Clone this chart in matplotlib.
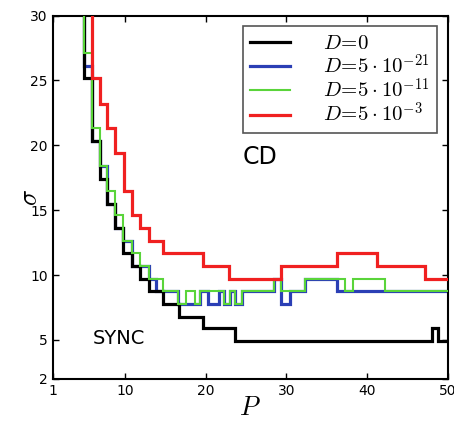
# Phase diagram: SYNC / CD boundary sigma(P) for several noise levels D
import numpy as np
import matplotlib.pyplot as plt

plt.rcParams['mathtext.fontset'] = 'cm'

# step edges in P and boundary value of sigma on each interval
# (first interval lies above the plotted range)
P_d0 = [1, 4.9, 5.9, 6.9, 7.7, 8.7, 9.7, 10.8, 11.8, 12.9, 14.7, 16.7, 19.7,
        23.6, 48.0, 48.8, 50]
sig_d0 = [40, 25.2, 20.3, 17.4, 15.5, 13.6, 11.7, 10.7, 9.7, 8.8, 7.8, 6.8,
          5.9, 4.9, 5.9, 4.9]

P_d21 = [1, 4.9, 5.9, 6.9, 7.7, 8.7, 9.7, 10.8, 11.8, 12.9, 13.8, 16.6, 17.5,
         18.7, 19.3, 20.3, 21.6, 22.2, 23.0, 23.6, 24.5, 28.4, 29.3, 30.4,
         32.3, 36.3, 50]
sig_d21 = [40, 26.1, 20.3, 18.4, 15.5, 13.6, 12.6, 10.7, 10.7, 9.7, 8.8, 7.8,
           7.8, 7.8, 8.8, 7.8, 8.8, 7.8, 8.8, 7.8, 8.8, 9.7, 7.8, 8.8, 9.7,
           8.8]

P_d11 = [1, 4.9, 5.9, 6.9, 7.7, 8.7, 9.7, 10.8, 11.8, 12.9, 14.7, 16.6, 17.5,
         18.7, 19.3, 22.2, 23.0, 23.6, 24.5, 28.4, 29.3, 32.3, 37.3, 38.3,
         42.2, 50]
sig_d11 = [40, 27.1, 21.3, 18.4, 16.5, 14.6, 12.6, 11.7, 10.7, 9.7, 8.8, 7.8,
           8.8, 7.8, 8.8, 7.8, 8.8, 7.8, 8.8, 9.7, 8.8, 9.7, 8.8, 9.7, 8.8]

P_d3 = [1, 5.9, 6.9, 7.8, 8.7, 9.8, 10.8, 11.8, 12.9, 14.7, 19.7, 22.9, 29.3,
        36.3, 41.2, 47.2, 50]
sig_d3 = [40, 25.2, 23.2, 21.3, 19.4, 16.5, 14.6, 13.6, 12.6, 11.7, 10.7, 9.7,
          10.7, 11.7, 10.7, 9.7]

fig = plt.figure(figsize=(4.54, 4.21), dpi=100)
ax = fig.add_axes([0.116, 0.1, 0.87, 0.863])

ax.stairs(sig_d21, P_d21, baseline=None, color='#2b3fb5', lw=2.3, zorder=2,
          label=r'$D\!=\!5\cdot10^{-21}$')
ax.stairs(sig_d0, P_d0, baseline=None, color='k', lw=2.3, zorder=3,
          label=r'$D\!=\!0$')
ax.stairs(sig_d11, P_d11, baseline=None, color='#5ad43a', lw=1.5, zorder=4,
          label=r'$D\!=\!5\cdot10^{-11}$')
ax.stairs(sig_d3, P_d3, baseline=None, color='#f02020', lw=2.3, zorder=5,
          label=r'$D\!=\!5\cdot10^{-3}$')

# region labels
ax.text(24.6, 19.1, 'CD', fontsize=17, va='center')
ax.text(6.0, 5.1, 'SYNC', fontsize=14, va='center')

ax.set_xlim(1, 50)
ax.set_ylim(2, 30)
ax.set_xticks([1, 10, 20, 30, 40, 50])
ax.set_yticks([2, 5, 10, 15, 20, 25, 30])
ax.tick_params(direction='in', top=True, right=True, length=4, width=1,
               labelsize=10)
for s in ax.spines.values():
    s.set_linewidth(1.5)
ax.set_xlabel(r'$P$', fontsize=19, labelpad=-2)
ax.set_ylabel(r'$\sigma$', fontsize=19, labelpad=-9)

h, l = ax.get_legend_handles_labels()
order = [1, 0, 2, 3]
leg = ax.legend([h[i] for i in order], [l[i] for i in order], loc='upper right',
                fontsize=15, handlelength=1.9, handletextpad=1.6,
                borderaxespad=0.5, borderpad=0.35, labelspacing=0.0,
                fancybox=False, framealpha=1)
leg.get_frame().set_edgecolor('#555555')
leg.get_frame().set_linewidth(1.2)

fig.savefig('out.png')
